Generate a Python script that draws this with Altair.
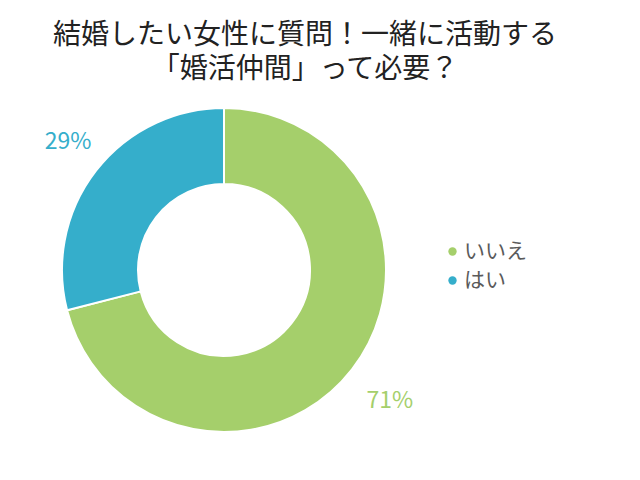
import altair as alt
import pandas as pd

categories = ["いいえ", "はい"]
values = [71, 29]
labels = ["71%", "29%"]
order = [0, 1]
colors = ["#a5cf6b", "#35aecb"]
title_lines = ["結婚したい女性に質問！一緒に活動する", "「婚活仲間」って必要？"]

df = pd.DataFrame({"category": categories, "value": values, "label": labels, "order": order})

FONT = "Noto Sans CJK JP"

color = alt.Color(
    "category:N",
    scale=alt.Scale(domain=categories, range=colors),
    legend=alt.Legend(
        orient="none", legendX=434, legendY=143, title=None,
        symbolType="circle", symbolSize=70, symbolStrokeWidth=0,
        labelFontSize=21, labelFont=FONT, labelColor="#5a5a5a",
        labelOffset=1, rowPadding=7,
    ),
)

base = alt.Chart(df).encode(
    x=alt.value(216),
    y=alt.value(172),
)

arc = base.mark_arc(innerRadius=86, outerRadius=162, stroke="white", strokeWidth=2).encode(
    theta=alt.Theta("value:Q", stack=True),
    order=alt.Order("order:Q"),
    color=color,
)

label_color = alt.Color("category:N", scale=alt.Scale(domain=categories, range=colors), legend=None)
label_base = base.transform_joinaggregate(total="sum(value)").transform_window(
    cum="sum(value)", sort=[alt.SortField("order")]
).transform_calculate(
    mid="(datum.cum - datum.value / 2) / datum.total * 2 * PI"
).encode(
    theta=alt.Theta("mid:Q", scale=None),
    text="label:N",
    color=label_color,
)
text_no = label_base.transform_filter(alt.datum.category == categories[0]).mark_text(
    radius=210, fontSize=23, font=FONT, dx=0, dy=2
)
text_yes = label_base.transform_filter(alt.datum.category == categories[1]).mark_text(
    radius=210, fontSize=23, font=FONT, dx=10, dy=1
)

chart = alt.layer(arc, text_no, text_yes).properties(
    width=624,
    height=374,
    padding={"left": 0, "top": 90, "right": 0, "bottom": 0},
    autosize=alt.AutoSizeParams(type="none"),
    title=alt.TitleParams(
        title_lines, fontSize=28, font=FONT, fontWeight="normal", color="#222222",
        anchor="middle", dx=-15, offset=14, lineHeight=34,
    ),
).configure_view(stroke=None)

chart.save("out.html", embed_options={"renderer": "svg", "actions": False})
